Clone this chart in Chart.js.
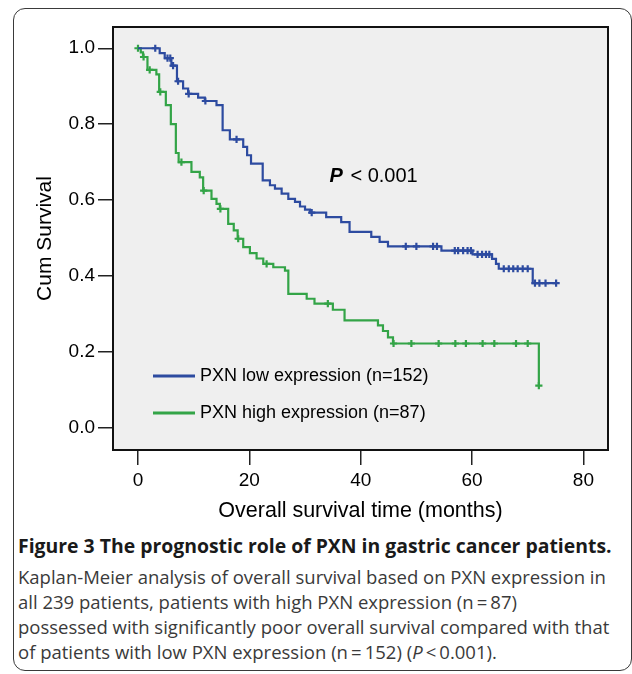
<!DOCTYPE html>
<html>
<head>
<meta charset="utf-8">
<title>PXN survival</title>
<script src="https://cdn.jsdelivr.net/npm/chart.js@4.4.0/dist/chart.umd.min.js"></script>
<style>
    html, body { margin: 0; padding: 0; background: #fff; }
    #page { position: relative; width: 632px; height: 674px; overflow: hidden; }
    #frame {
        position: absolute; left: 13px; top: 8px; width: 619px; height: 663px;
        border: 1.5px solid #3a3a3a; border-radius: 12px; box-sizing: border-box;
    }
    #graph { position: absolute; left: 0; top: 0; }
    #caption {
        position: absolute; left: 18px; top: 533px;
        font-family: "Open Sans", sans-serif; font-size: 18.5px; line-height: 25px;
        color: #3a3a3a; white-space: nowrap;
    }
    #caption .head { font-weight: bold; font-size: 19.4px; color: #1a1a1a; margin-bottom: 6px; }
</style>
</head>
<body>
<div id="page">
    <div id="frame"></div>
    <canvas id="graph" width="632" height="530"></canvas>
    <div id="caption">
        <div class="head">Figure 3 The prognostic role of PXN in gastric cancer patients.</div>
        <div>Kaplan-Meier analysis of overall survival based on PXN expression in</div>
        <div>all 239 patients, patients with high PXN expression (n&#8201;=&#8201;87)</div>
        <div>possessed with significantly poor overall survival compared with that</div>
        <div>of patients with low PXN expression (n&#8201;=&#8201;152) (<i>P</i>&#8201;&lt;&#8201;0.001).</div>
    </div>
</div>
<script>
// DADOS
const lowTimes = [3.9, 4.8, 6.0, 7.0, 8.1, 9.0, 10.8, 12.0, 14.1, 15.2, 16.5, 18.9, 19.6, 20.3, 22.4, 23.7, 24.6, 25.8, 27.0, 28.2, 29.1, 30.0, 30.9, 33.8, 36.5, 38.0, 41.9, 43.4, 44.9, 54.5, 60.1, 63.6, 64.3, 64.8, 70.9];
const lowSurv = [0.987, 0.974, 0.954, 0.913, 0.894, 0.880, 0.870, 0.861, 0.850, 0.784, 0.760, 0.740, 0.718, 0.696, 0.652, 0.639, 0.630, 0.617, 0.603, 0.595, 0.583, 0.575, 0.567, 0.555, 0.542, 0.516, 0.503, 0.490, 0.478, 0.467, 0.457, 0.445, 0.432, 0.419, 0.381];
const lowCensored = [3.1, 5.3, 5.8, 6.3, 7.2, 9.1, 12.1, 17.7, 31.2, 48.1, 50.0, 53.0, 53.7, 56.9, 57.5, 58.4, 59.2, 59.8, 61.0, 61.8, 62.5, 63.1, 65.7, 66.6, 67.4, 68.2, 69.1, 70.0, 71.3, 72.1, 73.2, 75.1];

const highTimes = [0.5, 0.9, 1.7, 3.3, 3.8, 5.0, 5.9, 6.8, 7.3, 9.6, 11.1, 11.7, 13.2, 14.1, 14.7, 16.2, 17.2, 17.9, 18.9, 20.1, 21.3, 22.5, 24.3, 26.4, 27.0, 30.3, 31.7, 35.0, 37.1, 43.1, 44.0, 44.9, 45.8, 72.0];
const highSurv = [0.989, 0.977, 0.943, 0.931, 0.885, 0.850, 0.800, 0.724, 0.700, 0.674, 0.660, 0.625, 0.603, 0.590, 0.577, 0.537, 0.520, 0.498, 0.476, 0.460, 0.446, 0.432, 0.423, 0.414, 0.353, 0.340, 0.327, 0.311, 0.283, 0.270, 0.255, 0.238, 0.222, 0.111];
const highCensored = [0, 1.0, 2.1, 4.0, 7.8, 11.8, 14.8, 18.0, 23.1, 34.1, 45.9, 49.1, 54.0, 57.0, 58.9, 61.9, 64.0, 67.9, 70.0, 72.0];

const seriesNames = ["PXN low expression (n=152)", "PXN high expression (n=87)"];
const seriesColors = ["#2d4ba0", "#33a447"];
const xTicks = [0, 20, 40, 60, 80];
const yTicks = [0.0, 0.2, 0.4, 0.6, 0.8, 1.0];
const pLabelAt = [34.4, 0.663];

const FONT = '"Liberation Sans", Arial, sans-serif';

// sobrevida no tempo t (degrau)
function survAt(times, surv, t) {
    let s = 1;
    for (let i = 0; i < times.length; i++) {
        if (times[i] <= t) s = surv[i];
    }
    return s;
}

function curve(times, surv, censored) {
    const pts = [{ x: 0, y: 1 }];
    times.forEach((t, i) => pts.push({ x: t, y: surv[i] }));
    const end = Math.max(times[times.length - 1], censored[censored.length - 1]);
    pts.push({ x: end, y: survAt(times, surv, end) });
    return pts;
}

function marks(times, surv, censored) {
    return censored.map(t => ({ x: t, y: survAt(times, surv, t) }));
}

function lineSet(data, color) {
    return {
        data: data,
        borderColor: color,
        borderWidth: 2.2,
        pointRadius: 0,
        stepped: "before",
        fill: false,
    };
}

function markSet(data, color) {
    return {
        data: data,
        showLine: false,
        pointStyle: "cross",
        pointRadius: 3.6,
        pointBorderWidth: 2.2,
        pointBorderColor: color,
        pointBackgroundColor: color,
    };
}

// FUNDO, MOLDURA, LEGENDA E P
const kmDecor = {
    id: "kmDecor",
    beforeDraw(chart) {
        const { ctx, chartArea: a } = chart;
        ctx.save();
        ctx.fillStyle = "#efefef";
        ctx.fillRect(a.left, a.top, a.width, a.height);
        ctx.restore();
    },
    beforeDatasetsDraw(chart) {
        const { ctx, chartArea: a } = chart;
        ctx.save();
        ctx.strokeStyle = "#111";
        ctx.lineWidth = 2;
        ctx.strokeRect(a.left, a.top, a.width, a.height);
        ctx.restore();
    },
    afterDatasetsDraw(chart) {
        const { ctx, chartArea: a } = chart;
        ctx.save();
        const rows = [a.bottom - 74, a.bottom - 37];
        seriesNames.forEach((name, i) => {
            ctx.strokeStyle = seriesColors[i];
            ctx.lineWidth = 3;
            ctx.beginPath();
            ctx.moveTo(a.left + 40, rows[i]);
            ctx.lineTo(a.left + 82, rows[i]);
            ctx.stroke();
            ctx.fillStyle = "#000";
            ctx.font = "18px " + FONT;
            ctx.textBaseline = "middle";
            ctx.textAlign = "left";
            ctx.fillText(name, a.left + 87, rows[i]);
        });

        const px = chart.scales.x.getPixelForValue(pLabelAt[0]);
        const py = chart.scales.y.getPixelForValue(pLabelAt[1]);
        ctx.fillStyle = "#000";
        ctx.textBaseline = "middle";
        ctx.font = "italic bold 20px " + FONT;
        ctx.fillText("P", px, py);
        const w = ctx.measureText("P").width;
        ctx.font = "20px " + FONT;
        ctx.fillText(" < 0.001", px + w + 2, py);
        ctx.restore();
    },
};

// CONSTRUIR GRÁFICO
const ctx = document.getElementById("graph");
new Chart(ctx, {
    type: "line",
    data: {
        datasets: [
            lineSet(curve(lowTimes, lowSurv, lowCensored), seriesColors[0]),
            markSet(marks(lowTimes, lowSurv, lowCensored), seriesColors[0]),
            lineSet(curve(highTimes, highSurv, highCensored), seriesColors[1]),
            markSet(marks(highTimes, highSurv, highCensored), seriesColors[1]),
        ],
    },
    options: {
        responsive: false,
        animation: false,
        layout: {
            autoPadding: false,
            padding: { left: 0, top: 27, right: 24, bottom: 0 },
        },
        scales: {
            x: {
                type: "linear",
                min: -4.49,
                max: 84.42,
                afterBuildTicks: (axis) => { axis.ticks = xTicks.map(v => ({ value: v })); },
                afterFit: (axis) => { axis.height = 80; },
                border: { display: false },
                grid: {
                    drawOnChartArea: false,
                    drawTicks: true,
                    tickLength: 15,
                    color: "#222",
                    lineWidth: 1.5,
                },
                ticks: {
                    color: "#000",
                    padding: 4,
                    maxRotation: 0,
                    autoSkip: false,
                    font: { size: 19, family: FONT },
                    callback: (v) => String(v),
                },
                title: {
                    display: true,
                    text: "Overall survival time (months)",
                    color: "#000",
                    font: { size: 21.5, family: FONT },
                    padding: { top: 0, bottom: 6 },
                },
            },
            y: {
                type: "linear",
                min: -0.0586,
                max: 1.056,
                afterBuildTicks: (axis) => { axis.ticks = yTicks.map(v => ({ value: v })); },
                afterFit: (axis) => { axis.width = 113; },
                border: { display: false },
                grid: {
                    drawOnChartArea: false,
                    drawTicks: true,
                    tickLength: 15,
                    color: "#222",
                    lineWidth: 1.5,
                },
                ticks: {
                    color: "#000",
                    padding: 3,
                    autoSkip: false,
                    font: { size: 19, family: FONT },
                    callback: (v) => v.toFixed(1),
                },
                title: {
                    display: true,
                    text: "Cum Survival",
                    color: "#000",
                    font: { size: 21, family: FONT },
                    padding: { top: 33, bottom: 0 },
                },
            },
        },
        plugins: {
            legend: { display: false },
            tooltip: { enabled: false },
        },
    },
    plugins: [kmDecor],
});
</script>
</body>
</html>
